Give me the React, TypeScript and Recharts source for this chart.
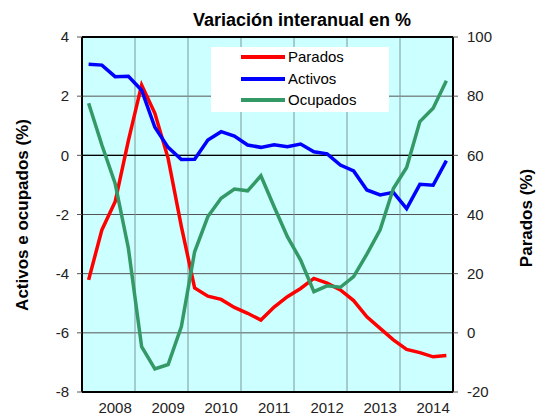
import React from 'react';
import { ComposedChart, Line, XAxis, YAxis, CartesianGrid, ReferenceLine } from 'recharts';

const quarters = [
  '2008T1', '2008T2', '2008T3', '2008T4',
  '2009T1', '2009T2', '2009T3', '2009T4',
  '2010T1', '2010T2', '2010T3', '2010T4',
  '2011T1', '2011T2', '2011T3', '2011T4',
  '2012T1', '2012T2', '2012T3', '2012T4',
  '2013T1', '2013T2', '2013T3', '2013T4',
  '2014T1', '2014T2', '2014T3', '2014T4',
];
const years = ['2008', '2009', '2010', '2011', '2012', '2013', '2014'];

const activos = [3.08, 3.05, 2.66, 2.67, 2.2, 0.95, 0.27, -0.14, -0.13, 0.52, 0.8, 0.65, 0.35, 0.27, 0.36, 0.29, 0.38, 0.12, 0.05, -0.33, -0.53, -1.17, -1.34, -1.25, -1.8, -0.98, -1.01, -0.18];
const ocupados = [1.76, 0.35, -0.95, -3.14, -6.47, -7.22, -7.07, -5.79, -3.26, -2.07, -1.45, -1.14, -1.2, -0.69, -1.74, -2.75, -3.54, -4.61, -4.41, -4.46, -4.1, -3.34, -2.52, -1.12, -0.41, 1.14, 1.59, 2.52];
const parados = [17.9, 34.8, 44.3, 65.0, 83.8, 74.2, 59.0, 35.9, 15.2, 12.4, 11.3, 8.6, 6.6, 4.3, 8.7, 12.2, 15.0, 18.4, 16.8, 14.5, 10.9, 5.4, 1.5, -2.4, -5.6, -6.7, -8.1, -7.7];

const leftTicks = [-8, -6, -4, -2, 0, 2, 4];
const rightTicks = [-20, 0, 20, 40, 60, 80, 100];

const data = quarters.map((q, i) => ({
  q,
  pos: i + 0.5,
  activos: activos[i],
  ocupados: ocupados[i],
  parados: parados[i],
}));

const yearTicks = years.map((_, k) => k * 4 + 2.5);
const yearBounds = years.slice(1).map((_, k) => (k + 1) * 4);

const series = [
  { key: 'parados', name: 'Parados', color: '#FF0000' },
  { key: 'activos', name: 'Activos', color: '#0000FF' },
  { key: 'ocupados', name: 'Ocupados', color: '#339966' },
];

const FONT = '"Liberation Sans", Arial, Helvetica, sans-serif';

export default function App() {
  return (
    <div style={{ position: 'absolute', left: 0, top: 0, width: 536, height: 416, background: '#fff', fontFamily: FONT }}>
      <ComposedChart width={536} height={416} data={data} margin={{ top: 37, right: 0, bottom: 0, left: 0 }}>
        <CartesianGrid yAxisId="l" vertical={false} stroke="#555" fill="#CCFFFF" fillOpacity={1} />
        <XAxis
          dataKey="pos"
          type="number"
          domain={[0, 28]}
          ticks={yearTicks}
          interval={0}
          tickFormatter={(v: number) => years[Math.floor(v / 4)]}
          tickLine={false}
          tickMargin={4}
          height={24}
          axisLine={{ stroke: '#000', strokeWidth: 2 }}
          tick={{ fill: '#222', fontSize: 15, fontFamily: FONT }}
        />
        <YAxis
          yAxisId="l"
          domain={[-8, 4]}
          ticks={leftTicks}
          interval={0}
          width={82}
          tickSize={5}
          tickMargin={8}
          axisLine={{ stroke: '#000', strokeWidth: 2 }}
          tickLine={{ stroke: '#555' }}
          tick={{ fill: '#222', fontSize: 15, fontFamily: FONT }}
        />
        <YAxis
          yAxisId="r"
          orientation="right"
          domain={[-20, 100]}
          ticks={rightTicks}
          interval={0}
          width={83}
          tickSize={5}
          tickMargin={9}
          axisLine={{ stroke: '#000', strokeWidth: 2 }}
          tickLine={{ stroke: '#555' }}
          tick={{ fill: '#222', fontSize: 15, fontFamily: FONT }}
        />
        {yearBounds.map((b) => (
          <ReferenceLine key={b} yAxisId="l" x={b} stroke="#7a9a9a" strokeWidth={1} />
        ))}
        <ReferenceLine yAxisId="l" y={0} stroke="#000" strokeWidth={1.2} />
        <ReferenceLine yAxisId="l" y={4} stroke="#000" strokeWidth={2} />
        <Line yAxisId="r" dataKey="parados" stroke="#FF0000" strokeWidth={3.5} dot={false} isAnimationActive={false} type="linear" />
        <Line yAxisId="l" dataKey="activos" stroke="#0000FF" strokeWidth={3.5} dot={false} isAnimationActive={false} type="linear" />
        <Line yAxisId="l" dataKey="ocupados" stroke="#339966" strokeWidth={3.5} dot={false} isAnimationActive={false} type="linear" />
      </ComposedChart>

      <svg width={536} height={416} style={{ position: 'absolute', left: 0, top: 0, pointerEvents: 'none' }}>
        <text x={302} y={26} textAnchor="middle" fontFamily={FONT} fontWeight="bold" fontSize={18} fill="#000">
          Variación interanual en %
        </text>
        <text x={28} y={215} transform="rotate(-90 28 215)" textAnchor="middle" fontFamily={FONT} fontWeight="bold" fontSize={17} fill="#000">
          Activos e ocupados (%)
        </text>
        <text x={532} y={218} transform="rotate(-90 532 218)" textAnchor="middle" fontFamily={FONT} fontWeight="bold" fontSize={17} fill="#000">
          Parados (%)
        </text>
      </svg>

      <div style={{ position: 'absolute', left: 211, top: 47, width: 178, height: 65, background: '#fff' }}>
        {series.map((s, i) => (
          <div key={s.key} style={{ position: 'absolute', left: 0, top: i * 21.7, height: 20, width: 178 }}>
            <div style={{ position: 'absolute', left: 30, top: 8, width: 44, height: 4, background: s.color }} />
            <div style={{ position: 'absolute', left: 77, top: 0, fontSize: 15, lineHeight: '20px', color: '#000', fontFamily: FONT }}>
              {s.name}
            </div>
          </div>
        ))}
      </div>
    </div>
  );
}
